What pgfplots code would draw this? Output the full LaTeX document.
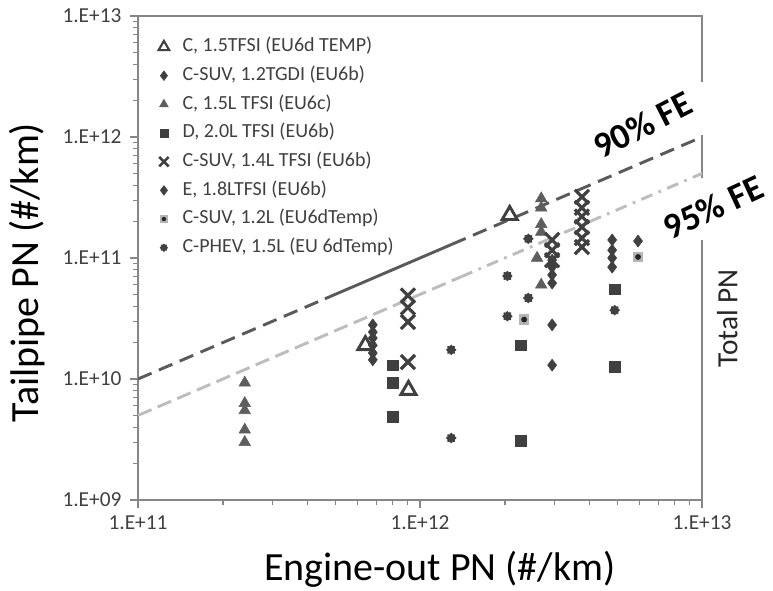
\documentclass[border=0pt]{standalone}
\usepackage{fontspec}
\setmainfont{Carlito}
\usepackage{pgfplots}
\pgfplotsset{compat=1.18}
\definecolor{mkdark}{HTML}{404040}
\definecolor{mktri}{HTML}{5E5E5E}
\definecolor{axgray}{HTML}{868686}
\definecolor{line90}{HTML}{5A5A5A}
\definecolor{line95}{HTML}{BDBDBD}
\definecolor{sqgray}{HTML}{B5B5B5}
\definecolor{dotdark}{HTML}{262626}
\definecolor{ticktext}{HTML}{404040}
\pgfdeclareplotmark{sqdot}{%
  \pgfpathrectangle{\pgfqpoint{-\pgfplotmarksize}{-\pgfplotmarksize}}{\pgfqpoint{2\pgfplotmarksize}{2\pgfplotmarksize}}%
  \pgfsetfillcolor{sqgray}%
  \pgfusepathqfill
  \pgfpathcircle{\pgfpointorigin}{0.55\pgfplotmarksize}%
  \pgfsetfillcolor{dotdark}%
  \pgfusepathqfill}
\pgfdeclareplotmark{phev}{%
  \pgfsetroundcap
  \pgfpathmoveto{\pgfqpoint{-\pgfplotmarksize}{0pt}}\pgfpathlineto{\pgfqpoint{\pgfplotmarksize}{0pt}}%
  \pgfpathmoveto{\pgfqpoint{0pt}{-\pgfplotmarksize}}\pgfpathlineto{\pgfqpoint{0pt}{\pgfplotmarksize}}%
  \pgfpathmoveto{\pgfqpoint{-.7071\pgfplotmarksize}{-.7071\pgfplotmarksize}}\pgfpathlineto{\pgfqpoint{.7071\pgfplotmarksize}{.7071\pgfplotmarksize}}%
  \pgfpathmoveto{\pgfqpoint{-.7071\pgfplotmarksize}{.7071\pgfplotmarksize}}\pgfpathlineto{\pgfqpoint{.7071\pgfplotmarksize}{-.7071\pgfplotmarksize}}%
  \pgfusepathqstroke}
\begin{document}
\begin{tikzpicture}[x=1pt,y=1pt]
\begin{axis}[
  at={(0,0)}, anchor=south west,
  scale only axis, width=423pt, height=363pt,
  xmode=log, ymode=log,
  xmin=1e11, xmax=1e13, ymin=1e9, ymax=1e13,
  xtick={1e11,1e12,1e13}, xticklabels={1.E+11,1.E+12,1.E+13},
  ytick={1e9,1e10,1e11,1e12,1e13}, yticklabels={1.E+09,1.E+10,1.E+11,1.E+12,1.E+13},
  minor xtick={2e11,3e11,4e11,5e11,6e11,7e11,8e11,9e11,2e12,3e12,4e12,5e12,6e12,7e12,8e12,9e12},
  minor ytick={2e9,3e9,4e9,5e9,6e9,7e9,8e9,9e9,2e10,3e10,4e10,5e10,6e10,7e10,8e10,9e10,2e11,3e11,4e11,5e11,6e11,7e11,8e11,9e11,2e12,3e12,4e12,5e12,6e12,7e12,8e12,9e12},
  tick pos=left, tick align=outside,
  major tick length=6pt, minor tick length=3.5pt,
  every tick/.append style={axgray, line width=0.9pt},
  axis line style={axgray, line width=1.1pt},
  ticklabel style={font=\fontsize{16}{18}\selectfont, text=ticktext},
  yticklabel style={xshift=-3pt},
  xticklabel style={yshift=-2pt},
  xlabel={Engine-out PN (\#/km)}, ylabel={Tailpipe PN (\#/km)},
  label style={font=\fontsize{30}{34}\selectfont},
  xlabel style={at={(axis description cs:0.535,-0.143)}, anchor=center},
  ylabel style={at={(axis description cs:-0.196,0.47)}, anchor=center},
  legend style={at={(axis description cs:0.036,0.966)}, anchor=north west,
    draw=none, fill=none, inner sep=0pt, column sep=8pt,
    font=\fontsize{15}{17}\selectfont, text=ticktext,
    nodes={inner ysep=3.75pt, text height=10.5pt, text depth=3.5pt},
    row sep=0pt},
  legend cell align=left,
]
% reference lines
\addplot[forget plot, line90, line width=2.2pt, dash pattern=on 11pt off 6pt] coordinates {(1e11,1e10) (4.6e11,4.6e10)};
\addplot[forget plot, line90, line width=2.2pt] coordinates {(4.6e11,4.6e10) (1.3e12,1.3e11)};
\addplot[forget plot, line90, line width=2.2pt, dash pattern=on 11pt off 6pt] coordinates {(1.3e12,1.3e11) (1e13,1e12)};
\addplot[forget plot, line95, line width=2.2pt, dash pattern=on 11pt off 5pt] coordinates {(1e11,5e9) (1.4e12,7e10)};
\addplot[forget plot, line95, line width=2.2pt, dash pattern=on 9pt off 5pt on 2pt off 5pt] coordinates {(1.4e12,7e10) (1e13,5e11)};
% legend images
\addlegendimage{only marks, mark=triangle, mark size=4.6pt, mark options={draw=mkdark, line width=1.6pt}}
\addlegendentry{C, 1.5TFSI (EU6d TEMP)}
\addlegendimage{only marks, mark=diamond*, mark size=3.6pt, mark options={draw=mkdark, fill=mkdark}}
\addlegendentry{C-SUV, 1.2TGDI (EU6b)}
\addlegendimage{only marks, mark=triangle*, mark size=3.8pt, mark options={draw=mktri, fill=mktri}}
\addlegendentry{C, 1.5L TFSI (EU6c)}
\addlegendimage{only marks, mark=square*, mark size=3pt, mark options={draw=mkdark, fill=mkdark}}
\addlegendentry{D, 2.0L TFSI (EU6b)}
\addlegendimage{only marks, mark=x, mark size=5pt, mark options={draw=mkdark, line width=1.9pt}}
\addlegendentry{C-SUV, 1.4L TFSI (EU6b)}
\addlegendimage{only marks, mark=diamond*, mark size=3.6pt, mark options={draw=mkdark, fill=mkdark}}
\addlegendentry{E, 1.8LTFSI (EU6b)}
\addlegendimage{only marks, mark=sqdot, mark size=3pt}
\addlegendentry{C-SUV, 1.2L (EU6dTemp)}
\addlegendimage{only marks, mark=phev, mark size=2.4pt, mark options={draw=mkdark, line width=1.6pt}}
\addlegendentry{C-PHEV, 1.5L (EU 6dTemp)}
% data
\addplot[forget plot, only marks, mark=diamond*, mark size=4.5pt, mark options={draw=mkdark, fill=mkdark}] coordinates {
(6.8e11,2.8e10) (6.8e11,2.44e10) (6.8e11,2.18e10) (6.8e11,1.9e10) (6.8e11,1.64e10) (6.8e11,1.44e10)
(2.94e12,9.6e10) (2.94e12,8.4e10) (2.94e12,7.25e10) (2.94e12,6.2e10) (2.94e12,2.8e10) (2.94e12,1.3e10)};
\addplot[forget plot, only marks, mark=diamond*, mark size=4.5pt, mark options={draw=mkdark, fill=mkdark}] coordinates {
(4.8e12,1.41e11) (4.8e12,1.16e11) (4.8e12,1.0e11) (4.8e12,8.4e10) (5.93e12,1.38e11)};
\addplot[forget plot, only marks, mark=triangle*, mark size=5pt, mark options={draw=mktri, fill=mktri}] coordinates {
(2.39e11,9.3e9) (2.39e11,6.3e9) (2.39e11,5.5e9) (2.39e11,3.8e9) (2.39e11,3.0e9)
(2.69e12,3.1e11) (2.69e12,2.6e11) (2.69e12,1.9e11) (2.69e12,1.64e11) (2.6e12,1.0e11) (2.69e12,6.0e10)};
\addplot[forget plot, only marks, mark=square*, mark size=4pt, mark options={draw=mkdark, fill=mkdark}] coordinates {
(8.0e11,1.3e10) (8.0e11,9.3e9) (8.0e11,4.85e9) (2.28e12,1.9e10) (2.28e12,3.1e9) (4.9e12,5.5e10) (4.9e12,1.26e10)};
\addplot[forget plot, only marks, mark=x, mark size=7.5pt, mark options={draw=mkdark, line width=2.4pt}] coordinates {
(9.06e11,4.9e10) (9.06e11,3.9e10) (9.06e11,2.96e10) (9.06e11,1.38e10)
(2.94e12,1.41e11) (2.94e12,1.16e11) (2.94e12,9.6e10)
(3.75e12,3.2e11) (3.75e12,2.6e11) (3.75e12,2.2e11) (3.75e12,1.8e11) (3.75e12,1.46e11) (3.75e12,1.23e11)};
\addplot[forget plot, only marks, mark=sqdot, mark size=4pt] coordinates {
(2.34e12,3.1e10) (5.93e12,1.02e11)};
\addplot[forget plot, only marks, mark=phev, mark size=3pt, mark options={draw=mkdark, line width=2pt}] coordinates {
(1.29e12,1.74e10) (1.29e12,3.25e9) (2.04e12,7.1e10) (2.42e12,1.44e11) (2.42e12,4.67e10) (2.04e12,3.3e10) (4.9e12,3.7e10)};
\addplot[forget plot, only marks, mark=triangle, mark size=6.5pt, mark options={draw=mkdark, line width=2.2pt}] coordinates {
(6.4e11,1.9e10) (9.1e11,8.1e9) (2.08e12,2.26e11)};
\coordinate (ga1) at (rel axis cs:1,0.754);
\coordinate (ga2) at (rel axis cs:1,0.864);
\coordinate (gb1) at (rel axis cs:1,0.537);
\coordinate (gb2) at (rel axis cs:1,0.665);
\coordinate (t90) at (rel axis cs:0.895,0.775);
\coordinate (t95) at (rel axis cs:1.02,0.605);
\coordinate (tpn) at (rel axis cs:1.045,0.375);
\end{axis}
\draw[white, line width=4pt] (ga1) -- (ga2);
\draw[white, line width=4pt] (gb1) -- (gb2);
\node[rotate=27, font=\bfseries\fontsize{27}{30}\selectfont] at (t90) {90\% FE};
\node[rotate=25, font=\bfseries\fontsize{27}{30}\selectfont] at (t95) {95\% FE};
\node[rotate=90, font=\fontsize{22}{26}\selectfont, text=black!85] at (tpn) {Total PN};
\pgfresetboundingbox
\useasboundingbox (-103.5,-68.25) rectangle (476.25,375);
\end{tikzpicture}
\end{document}
